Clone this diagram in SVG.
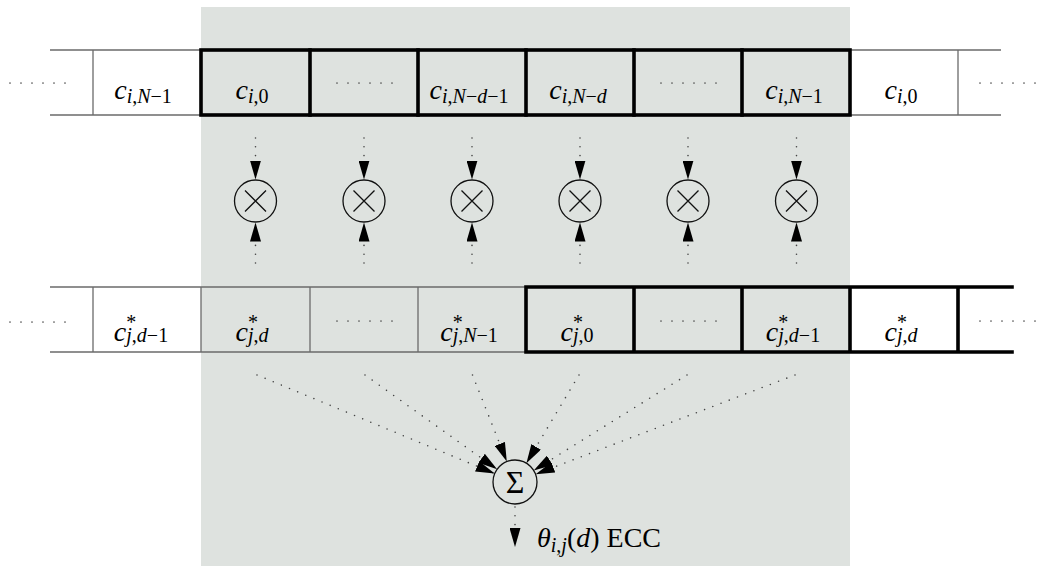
<svg xmlns="http://www.w3.org/2000/svg" width="1042" height="569" viewBox="0 0 1042 569">
  <style>
    .thin { fill: none; stroke: #6b6b6b; stroke-width: 1.3; }
    .thick { fill: none; stroke: #000; stroke-width: 3.6; stroke-linecap: square; }
    .dots { fill: none; stroke: #555; stroke-width: 1.7; stroke-linecap: round; stroke-dasharray: 0 11; }
    .flow { fill: none; stroke: #444; stroke-width: 1.6; stroke-linecap: round; stroke-dasharray: 0 8.8; }
    .op { fill: none; stroke: #111; stroke-width: 1.3; }
    .lbl { font-family: "Liberation Serif", serif; font-size: 28px; fill: #000; text-anchor: middle; }
    .v { font-style: italic; }
    .sub { font-size: 20px; }
    .sup { font-size: 20px; }
    .sym { font-family: "Liberation Serif", serif; font-size: 32px; fill: #000; text-anchor: middle; }
    .out { font-family: "Liberation Serif", serif; font-size: 28px; fill: #000; }
  </style>
  <defs>
    <marker id="ah" markerUnits="userSpaceOnUse" markerWidth="20" markerHeight="11" refX="19" refY="5.5" orient="auto">
      <path d="M0,0 L19,5.5 L0,11 z" fill="#000"/>
    </marker>
  </defs>

  <!-- shaded correlation window -->
  <rect id="window" x="201" y="7" width="649" height="559" fill="#dee2df"/>

  <!-- sequence c_i (top row) -->
  <g id="row-ci">
    <path class="thin" d="M50,50 H201 M50,115 H201 M93,50 V115"/>
    <path class="thin" d="M850,50 H1001 M850,115 H1001 M958,50 V115"/>
    <rect class="thick" x="201" y="50" width="649" height="65"/>
    <path class="thick" d="M310,50 V115 M418,50 V115 M526,50 V115 M634,50 V115 M742,50 V115"/>
    <path class="dots" d="M10,83 H66 M337,83 H393 M661,83 H717 M980,83 H1040"/>
    <text class="lbl" x="143" y="99"><tspan class="v">c</tspan><tspan class="sub" dy="4"><tspan class="v">i</tspan>,<tspan class="v">N</tspan>−1</tspan></text>
    <text class="lbl" x="252" y="99"><tspan class="v">c</tspan><tspan class="sub" dy="4"><tspan class="v">i</tspan>,0</tspan></text>
    <text class="lbl" x="469" y="99"><tspan class="v">c</tspan><tspan class="sub" dy="4"><tspan class="v">i</tspan>,<tspan class="v">N</tspan>−<tspan class="v">d</tspan>−1</tspan></text>
    <text class="lbl" x="578" y="99"><tspan class="v">c</tspan><tspan class="sub" dy="4"><tspan class="v">i</tspan>,<tspan class="v">N</tspan>−<tspan class="v">d</tspan></tspan></text>
    <text class="lbl" x="794" y="99"><tspan class="v">c</tspan><tspan class="sub" dy="4"><tspan class="v">i</tspan>,<tspan class="v">N</tspan>−1</tspan></text>
    <text class="lbl" x="901" y="99"><tspan class="v">c</tspan><tspan class="sub" dy="4"><tspan class="v">i</tspan>,0</tspan></text>
  </g>

  <!-- conjugate sequence c_j* shifted by d (bottom row) -->
  <g id="row-cj">
    <path class="thin" d="M50,287 H526 M50,352 H526 M93,287 V352 M201,287 V352 M310,287 V352 M418,287 V352"/>
    <path class="thick" d="M526,287 H1012 M526,352 H1012 M526,287 V352 M634,287 V352 M742,287 V352 M850,287 V352 M958,287 V352"/>
    <path class="dots" d="M10,322 H66 M337,321 H393 M661,321 H717 M980,321 H1040"/>
    <text class="lbl" x="141" y="341"><tspan class="v">c</tspan><tspan class="sup" dy="-12">*</tspan><tspan class="sub" dx="-10" dy="13"><tspan class="v">j</tspan>,<tspan class="v">d</tspan>−1</tspan></text>
    <text class="lbl" x="252" y="341"><tspan class="v">c</tspan><tspan class="sup" dy="-12">*</tspan><tspan class="sub" dx="-10" dy="13"><tspan class="v">j</tspan>,<tspan class="v">d</tspan></tspan></text>
    <text class="lbl" x="469" y="341"><tspan class="v">c</tspan><tspan class="sup" dy="-12">*</tspan><tspan class="sub" dx="-10" dy="13"><tspan class="v">j</tspan>,<tspan class="v">N</tspan>−1</tspan></text>
    <text class="lbl" x="577" y="341"><tspan class="v">c</tspan><tspan class="sup" dy="-12">*</tspan><tspan class="sub" dx="-10" dy="13"><tspan class="v">j</tspan>,0</tspan></text>
    <text class="lbl" x="793" y="341"><tspan class="v">c</tspan><tspan class="sup" dy="-12">*</tspan><tspan class="sub" dx="-10" dy="13"><tspan class="v">j</tspan>,<tspan class="v">d</tspan>−1</tspan></text>
    <text class="lbl" x="901" y="341"><tspan class="v">c</tspan><tspan class="sup" dy="-12">*</tspan><tspan class="sub" dx="-10" dy="13"><tspan class="v">j</tspan>,<tspan class="v">d</tspan></tspan></text>
  </g>

  <!-- multipliers -->
  <g id="mul-1"><circle class="op" cx="255.5" cy="201" r="21"/><path class="op" d="M245,190.5 L266,211.5 M266,190.5 L245,211.5"/></g>
  <g id="mul-2"><circle class="op" cx="364" cy="201" r="21"/><path class="op" d="M353.5,190.5 L374.5,211.5 M374.5,190.5 L353.5,211.5"/></g>
  <g id="mul-3"><circle class="op" cx="472" cy="201" r="21"/><path class="op" d="M461.5,190.5 L482.5,211.5 M482.5,190.5 L461.5,211.5"/></g>
  <g id="mul-4"><circle class="op" cx="580" cy="201" r="21"/><path class="op" d="M569.5,190.5 L590.5,211.5 M590.5,190.5 L569.5,211.5"/></g>
  <g id="mul-5"><circle class="op" cx="688" cy="201" r="21"/><path class="op" d="M677.5,190.5 L698.5,211.5 M698.5,190.5 L677.5,211.5"/></g>
  <g id="mul-6"><circle class="op" cx="796.5" cy="201" r="21"/><path class="op" d="M786,190.5 L807,211.5 M807,190.5 L786,211.5"/></g>

  <!-- summation -->
  <g id="sum">
    <circle class="op" cx="515" cy="482" r="22"/>
    <text class="sym" x="515" y="493">Σ</text>
  </g>

  <!-- output label -->
  <g id="output">
    <text class="out" x="537" y="547"><tspan class="v">θ</tspan><tspan class="sub" dy="5"><tspan class="v">i</tspan>,<tspan class="v">j</tspan></tspan><tspan dy="-5">(</tspan><tspan class="v">d</tspan>) ECC</text>
  </g>

  <!-- connectors -->
  <g id="connectors">
    <path class="flow" marker-end="url(#ah)" d="M255.5,138 V179.5"/>
    <path class="flow" marker-end="url(#ah)" d="M364,138 V179.5"/>
    <path class="flow" marker-end="url(#ah)" d="M472,138 V179.5"/>
    <path class="flow" marker-end="url(#ah)" d="M580,138 V179.5"/>
    <path class="flow" marker-end="url(#ah)" d="M688,138 V179.5"/>
    <path class="flow" marker-end="url(#ah)" d="M796.5,138 V179.5"/>

    <path class="flow" marker-end="url(#ah)" d="M255.5,263 V222.5"/>
    <path class="flow" marker-end="url(#ah)" d="M364,263 V222.5"/>
    <path class="flow" marker-end="url(#ah)" d="M472,263 V222.5"/>
    <path class="flow" marker-end="url(#ah)" d="M580,263 V222.5"/>
    <path class="flow" marker-end="url(#ah)" d="M688,263 V222.5"/>
    <path class="flow" marker-end="url(#ah)" d="M796.5,263 V222.5"/>

    <path class="flow" marker-end="url(#ah)" d="M257,375 L494.7,473.6"/>
    <path class="flow" marker-end="url(#ah)" d="M365,375 L497.1,469.3"/>
    <path class="flow" marker-end="url(#ah)" d="M472.5,375 L506.8,461.6"/>
    <path class="flow" marker-end="url(#ah)" d="M579,375 L526.4,463.2"/>
    <path class="flow" marker-end="url(#ah)" d="M687,375 L533.7,470.4"/>
    <path class="flow" marker-end="url(#ah)" d="M795,375 L535.6,474.2"/>

    <path class="flow" marker-end="url(#ah)" d="M515,507 V547"/>
  </g>
</svg>
